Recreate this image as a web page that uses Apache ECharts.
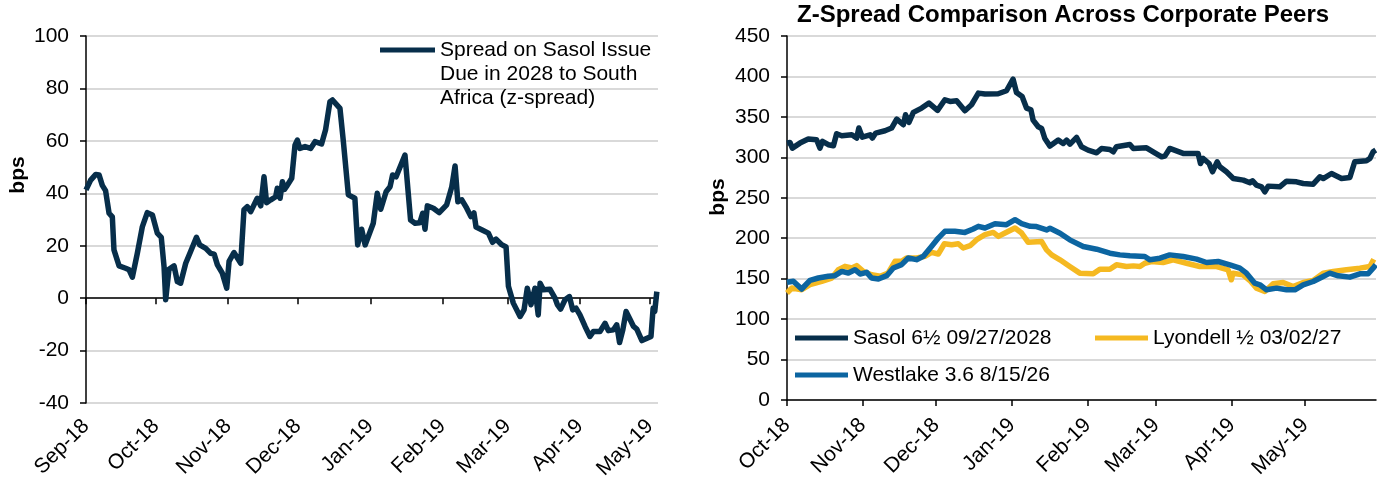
<!DOCTYPE html>
<html>
<head>
<meta charset="utf-8">
<script src="https://cdn.jsdelivr.net/npm/echarts@6/dist/echarts.min.js"></script>
<style>
html, body { margin: 0; padding: 0; background: #fff; }
#chart { width: 1377px; height: 480px; }
</style>
</head>
<body>
<div id="chart"></div>
<script>
// left chart: x = days since 1 Sep 2018
const leftMonthDays = [0, 30, 61, 91, 122, 153, 181, 212, 242]
const leftMonthLabels = ['Sep-18', 'Oct-18', 'Nov-18', 'Dec-18', 'Jan-19', 'Feb-19', 'Mar-19', 'Apr-19', 'May-19']
const leftName = 'Spread on Sasol Issue Due in 2028 to South Africa (z-spread)'
const leftLegendLines = ['Spread on Sasol Issue', 'Due in 2028 to South', 'Africa (z-spread)']

const leftDays = [0, 2, 4.2, 5.6, 7, 8.4, 9.9, 11.3, 12, 14.2, 17, 18.5, 19.9, 22, 24.2, 26.3, 28.5, 30.6, 32.3, 33.5,
  34.2, 35.6, 37.8, 39.2, 40.6, 42.8, 44.9, 47.4, 48.8, 51.4, 53.5, 55, 56.4, 58.5, 60.4, 61.4, 63.5, 66.4, 67.8, 69.2,
  70.7, 72.1, 73.5, 75, 76.4, 77.5, 79.3, 81.4, 82.1, 83.3, 84.3, 85.2, 86, 88.3, 89.7, 90.7, 91.8, 94, 96.4, 98.3,
  101.1, 102.8, 104.7, 105.8, 109, 110.4, 112.6, 115.4, 116.6, 118.3, 119.8, 123.3, 125, 126.5, 128.8, 130.5, 131.6, 133.1, 136.9, 139.3,
  141.2, 143.3, 144.5, 145.5, 146.5, 149.1, 151.6, 154.8, 157, 158.4, 159.6, 161.3, 163.4, 165.2, 166.5, 167.4, 169.8, 172.7, 174.5, 176,
  178.4, 180.3, 181.3, 183.4, 186.3, 188, 189.4, 191, 192.7, 194.1, 194.9, 196.3, 199.1, 201.3, 202.3, 203.7, 205.6, 207.5, 208.9, 210.3,
  212, 214.2, 216.3, 217.8, 220.6, 222.8, 224.2, 226.4, 227.8, 229, 230.4, 231.8, 233.2, 235, 236.4, 238.6, 240.8, 242.5, 243.4, 244.1, 245]
const leftSpread = [41.3, 45, 47.2, 47, 43, 41, 32.4, 31, 18.4, 12.3, 11.4, 10.8, 8, 17, 27.3, 32.6, 31.7, 24.8, 23.2, 12,
  -0.6, 11, 12.3, 6.3, 5.7, 13.3, 17.8, 23.2, 20.3, 19, 17.1, 16.8, 12.7, 9.5, 3.8, 14, 17.4, 13.3, 33.7, 34.9,
  33, 35.6, 38.1, 35.2, 46.3, 36.4, 37.5, 38.7, 41.9, 38.1, 44.4, 41.5, 42.5, 45.7, 58.4, 60.3, 57.1, 57.8, 57.1, 59.7,
  58.8, 64.1, 74.9, 75.6, 72.4, 60.3, 39.4, 38.1, 20.3, 26.3, 20.3, 28.6, 40, 33.9, 40.6, 42.5, 47, 46.3, 54.6, 29.8,
  28.6, 28.8, 32.4, 26.3, 35.2, 34.3, 32.6, 35.6, 42.5, 50.4, 36.8, 37.5, 34.3, 31.1, 32.5, 27.1, 26.1, 24.8, 21.3, 22.5,
  20.4, 19.5, 4.5, -1.9, -7, -4.5, 3.8, -2.5, 3.8, -6.4, 5.7, 3.2, 3.4, 0, -2.5, -4.2, -0.6, 0.6, -4.5, -3.8,
  -6.4, -10.8, -14.6, -12.7, -12.7, -9.6, -12.4, -12.1, -10.2, -16.9, -12.1, -5.1, -7.6, -10.8, -11.8, -16.2, -15.3, -14.6, -3.8, -5.1, 2.5]

// right chart: x = days since 1 Oct 2018
const rightTitle = 'Z-Spread Comparison Across Corporate Peers'
const rightMonthDays = [0, 31, 61, 92, 123, 151, 182, 212]
const rightMonthLabels = ['Oct-18', 'Nov-18', 'Dec-18', 'Jan-19', 'Feb-19', 'Mar-19', 'Apr-19', 'May-19']

const sasolDays = [0, 1.2, 2.2, 5.3, 8.7, 12.1, 13.5, 14.5, 16.9, 19, 20.3, 22.4, 26.5, 28.5, 29.4, 30.8, 34, 34.9, 36.3, 40.1,
  42.8, 44.9, 47.6, 48.5, 49.9, 51.7, 55.1, 58.1, 61.6, 64.6, 66.7, 69.4, 72.8, 75.5, 78.3, 81, 86.4, 89.8, 92.5, 93.9,
  96.2, 98, 99.8, 100.7, 102.8, 104.2, 105.5, 107.6, 111, 113, 114.4, 115.8, 118.5, 120.5, 123.2, 126.7, 128.7, 132.1, 133.5, 134.8,
  140.3, 141.7, 147.1, 150.5, 153.3, 154.6, 156.6, 162.1, 168.2, 169.2, 170.3, 172.7, 174.1, 176, 177.1, 179.8, 182.6, 186.7, 189.4, 190.5,
  192.1, 194.2, 195.5, 196.9, 201.6, 204.4, 208.5, 211.2, 215.3, 218, 219.4, 222.8, 224.2, 226.9, 230.3, 232.3, 237.1, 238.5, 239.8, 240.9]
const sasolZ = [317.6, 318.4, 311.4, 317.6, 322.6, 321.7, 311.4, 319.7, 315.6, 314.3, 329.2, 326.7, 327.9, 323.8, 336.2, 325, 327.9, 323.8, 330, 332.9,
  336.2, 347.3, 340.3, 352.6, 343.2, 355.5, 360.9, 367.1, 358, 371.2, 369.1, 369.9, 357.6, 365, 379.4, 378.2, 378.6, 382.3, 396.7, 380.2,
  375.3, 360.9, 358.8, 346, 337.8, 335.7, 323.3, 313.9, 321.3, 317.2, 321.3, 316.3, 324.6, 313, 308.9, 305.6, 311, 309.7, 306.8, 313,
  315.9, 311, 311.8, 305.6, 300.7, 301.5, 311, 304.8, 304.8, 292.4, 298.6, 292.4, 282.1, 294.5, 288.3, 282.1, 273.8, 271.8, 268.5, 271,
  265.6, 263.5, 257.3, 264.4, 263.5, 270.5, 269.7, 267.7, 266.8, 275.9, 273.8, 280, 277.9, 273.8, 275.1, 294.5, 295.7, 298.6, 306.8, 308.9]

const lyondellDays = [0, 2, 6, 9.4, 14.2, 18.3, 21, 23.7, 26.5, 28.5, 31.2, 34.6, 38.1, 41.4, 44.2, 46.9, 48.9, 53, 56.4, 59.2,
  61.9, 64.4, 67.4, 70.1, 72.1, 74.9, 77.6, 81, 84.4, 86.5, 89.2, 93.3, 96, 98.7, 104.2, 106.2, 108.3, 111.7, 115.7, 119.8,
  125.3, 128, 132.1, 134.8, 138.9, 141.7, 144.4, 146.4, 149.1, 153.9, 158, 163.5, 168.9, 175.8, 180.5, 181.8, 182.5, 186.6, 189.4, 192.1,
  195.5, 198.9, 203, 207.1, 211.2, 215.3, 219.4, 223.5, 228.9, 234.4, 238.5, 240.1]
const lyondellZ = [132.3, 138.5, 136.4, 142.6, 146.7, 150.8, 161.1, 165.2, 163.2, 166.1, 159, 154.9, 152.9, 157, 171.4, 171.4, 175.5, 175.5, 177.6, 182.5,
  180.5, 193.2, 192, 193.2, 187.9, 190.8, 198.2, 204.4, 207.2, 202.3, 206.4, 212.6, 206.4, 194.9, 195.9, 185.6, 179.4, 173.3, 165, 156.8,
  156, 161.7, 161.7, 167.1, 165, 165.8, 165, 169.1, 171.2, 170, 173.3, 169.1, 165, 165, 160.9, 148.6, 156.8, 154.7, 147.7, 138.3,
  134.2, 143.6, 145.3, 140.3, 145.3, 147.7, 156.8, 158.8, 160.9, 163, 165, 174.1]

const westlakeDays = [0, 2.6, 6, 9.4, 12.8, 16.9, 19.6, 22.4, 25.1, 27.8, 29.9, 32.6, 34.6, 37.4, 40.8, 43.5, 46.9, 49.6, 53, 55.8,
  59.2, 61.9, 64.6, 68.7, 72.8, 76.2, 78.3, 81, 85.1, 89.8, 93.3, 96, 99.5, 102.1, 106.2, 107.6, 111.7, 115.7, 121.2, 126.7,
  132.1, 136.2, 140.3, 146.4, 148.5, 152.6, 156.6, 162.1, 167.6, 171.7, 176.4, 181.2, 185.3, 188, 191.4, 193.5, 196.2, 200.3, 204.4, 207.8,
  211.2, 215.3, 219.4, 222.1, 225.5, 230.3, 234.4, 237.8, 239.8, 240.9]
const westlakeZ = [145.5, 146.7, 137.2, 147.9, 150.8, 152.9, 153.7, 159, 157, 161.1, 155.8, 157.8, 150.8, 149.6, 153.7, 163.2, 167.3, 175.5, 173.5, 177.6,
  190, 200.2, 208.5, 208.5, 207.2, 211.4, 214.7, 212.6, 218, 216.7, 222.9, 218, 214.7, 214.4, 210.3, 212.3, 206.2, 198, 189.7, 186.4,
  181.5, 179.4, 178.2, 177.4, 173.3, 175.3, 179.4, 177.4, 174.1, 170, 171.2, 167.1, 163, 156.8, 144.4, 142.4, 136.2, 138.3, 136.2, 136.2,
  142.4, 146.5, 152.7, 156.8, 153.5, 151.9, 156, 156, 163, 167.1]

const seriesNames = ['Sasol 6½ 09/27/2028', 'Lyondell ½ 03/02/27', 'Westlake 3.6 8/15/26']
const navy = '#072e4a'
const blue = '#0c65a1'
const yellow = '#f5b921'

const FONT = '"Liberation Sans", Arial, sans-serif'
const pairs = (xs, ys) => xs.map((x, i) => [x, ys[i]])
const labelOf = (days, labels) => v => {
  const i = days.indexOf(v)
  return i < 0 ? '' : labels[i]
}

const axisText = { color: '#000', fontSize: 21, fontFamily: FONT }
const blackLine = { show: true, lineStyle: { color: '#000', width: 1.5 } }
const blackTick = { show: true, length: 6, lineStyle: { color: '#000', width: 1.5 } }
const grayGrid = { show: true, lineStyle: { color: '#d9d9d9', width: 2 } }
const LW = 5.5

let myChart = echarts.init(document.getElementById('chart'))

let option = {
  animation: false,
  textStyle: { fontFamily: FONT },
  title: {
    text: rightTitle,
    left: 797,
    top: 3,
    padding: 0,
    textStyle: { fontSize: 24, fontWeight: 'bold', color: '#000', fontFamily: FONT }
  },
  legend: [
    {
      data: [leftName],
      left: 380,
      top: -10,
      padding: 0,
      icon: 'rect',
      itemWidth: 55,
      itemHeight: 5,
      // two blank lines on top so the first text line sits beside the icon
      formatter: () => '\n\n' + leftLegendLines.join('\n'),
      textStyle: { color: '#000', fontSize: 21, lineHeight: 24 }
    },
    {
      data: [seriesNames[0], seriesNames[2]],
      orient: 'vertical',
      left: 795,
      top: 326,
      padding: 0,
      itemGap: 13,
      icon: 'rect',
      itemWidth: 53,
      itemHeight: 5,
      textStyle: { color: '#000', fontSize: 21, lineHeight: 24 }
    },
    {
      data: [seriesNames[1]],
      left: 1095,
      top: 326,
      padding: 0,
      icon: 'rect',
      itemWidth: 53,
      itemHeight: 5,
      textStyle: { color: '#000', fontSize: 21, lineHeight: 24 }
    }
  ],
  graphic: [
    {
      type: 'text', x: 18, y: 175, rotation: Math.PI / 2,
      style: { text: 'bps', font: 'bold 21px ' + FONT, fill: '#000', align: 'center', verticalAlign: 'middle' }
    },
    {
      type: 'text', x: 718, y: 197, rotation: Math.PI / 2,
      style: { text: 'bps', font: 'bold 21px ' + FONT, fill: '#000', align: 'center', verticalAlign: 'middle' }
    }
  ],
  grid: [
    { left: 86, top: 36, width: 572, height: 367, outerBoundsMode: 'none' },
    { left: 787, top: 36, width: 589, height: 364, outerBoundsMode: 'none' }
  ],
  xAxis: [
    {
      // axis line sitting on zero
      type: 'value', gridIndex: 0, min: 0, max: 245.5,
      position: 'bottom',
      axisLine: { show: true, onZero: true, lineStyle: { color: '#000', width: 1.5 } },
      axisTick: Object.assign({ customValues: leftMonthDays }, blackTick),
      axisLabel: { show: false },
      splitLine: { show: false }
    },
    {
      // month labels at the bottom of the plot
      type: 'value', gridIndex: 0, min: 0, max: 245.5,
      position: 'bottom',
      axisLine: { show: false, onZero: false },
      axisTick: { show: false },
      axisLabel: Object.assign({
        rotate: 45, margin: 20, customValues: leftMonthDays,
        formatter: labelOf(leftMonthDays, leftMonthLabels)
      }, axisText),
      splitLine: { show: false }
    },
    {
      type: 'value', gridIndex: 1, min: 0, max: 241,
      position: 'bottom',
      axisLine: blackLine,
      axisTick: Object.assign({ customValues: rightMonthDays }, blackTick),
      axisLabel: Object.assign({
        rotate: 45, margin: 22, customValues: rightMonthDays,
        formatter: labelOf(rightMonthDays, rightMonthLabels)
      }, axisText),
      splitLine: { show: false }
    }
  ],
  yAxis: [
    {
      type: 'value', gridIndex: 0, min: -40, max: 100, interval: 20,
      axisLine: blackLine,
      axisTick: blackTick,
      axisLabel: Object.assign({ margin: 17 }, axisText),
      splitLine: grayGrid
    },
    {
      type: 'value', gridIndex: 1, min: 0, max: 450, interval: 50,
      axisLine: blackLine,
      axisTick: blackTick,
      axisLabel: Object.assign({ margin: 17 }, axisText),
      splitLine: grayGrid
    }
  ],
  series: [
    {
      name: leftName, type: 'line', xAxisIndex: 0, yAxisIndex: 0,
      data: pairs(leftDays, leftSpread),
      showSymbol: false, symbol: 'none',
      color: navy,
      lineStyle: { color: navy, width: LW, join: 'round' }
    },
    {
      name: seriesNames[0], type: 'line', xAxisIndex: 2, yAxisIndex: 1,
      data: pairs(sasolDays, sasolZ),
      showSymbol: false, symbol: 'none',
      color: navy,
      lineStyle: { color: navy, width: LW, join: 'round' }
    },
    {
      name: seriesNames[1], type: 'line', xAxisIndex: 2, yAxisIndex: 1,
      data: pairs(lyondellDays, lyondellZ),
      showSymbol: false, symbol: 'none',
      color: yellow,
      lineStyle: { color: yellow, width: LW, join: 'round' }
    },
    {
      name: seriesNames[2], type: 'line', xAxisIndex: 2, yAxisIndex: 1,
      data: pairs(westlakeDays, westlakeZ),
      showSymbol: false, symbol: 'none',
      color: blue,
      lineStyle: { color: blue, width: LW, join: 'round' }
    }
  ]
}

myChart.setOption(option)
</script>
</body>
</html>
